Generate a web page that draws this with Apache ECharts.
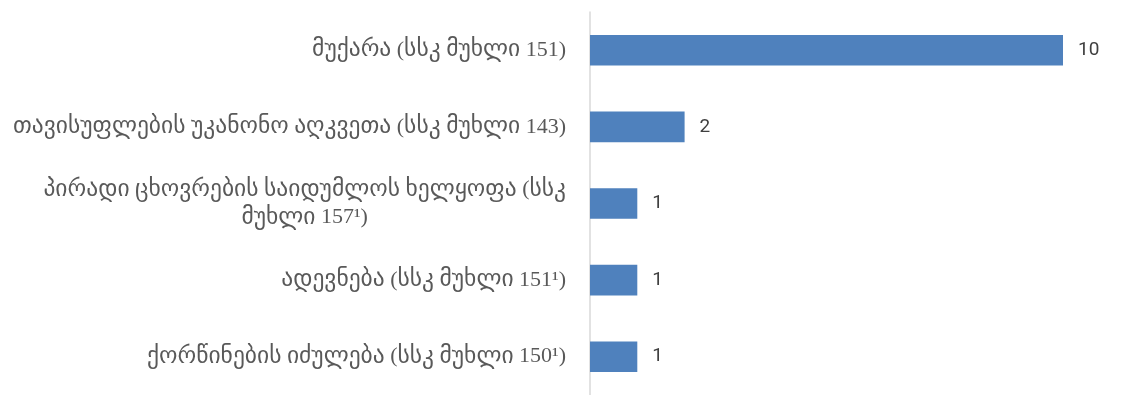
<!DOCTYPE html>
<html>
<head>
<meta charset="utf-8">
<script src="https://cdn.jsdelivr.net/npm/echarts@6/dist/echarts.min.js"></script>
<style>
  html, body { margin: 0; padding: 0; background: #ffffff; }
  #chart { width: 1142px; height: 395px; }
</style>
</head>
<body>
<div id="chart"></div>
<script>
// Offence categories (bottom to top on the category axis)
const categories = [
  'ქორწინების იძულება (სსკ მუხლი 150¹)',
  'ადევნება (სსკ მუხლი 151¹)',
  'პირადი ცხოვრების საიდუმლოს ხელყოფა (სსკ\nმუხლი 157¹)',
  'თავისუფლების უკანონო აღკვეთა (სსკ მუხლი 143)',
  'მუქარა (სსკ მუხლი 151)'
];
// Number of cases per category
const caseCounts = [1, 1, 1, 2, 10];

// Georgian runs and digit/punctuation runs get separate rich styles
const GEO_RUN = /([\u10A0-\u10FF]+)/;
function richLabel(text) {
  return text.split('\n').map(function (line) {
    return line.split(GEO_RUN).filter(function (s) { return s.length; }).map(function (s) {
      return (GEO_RUN.test(s) ? '{g|' : '{d|') + s + '}';
    }).join('');
  }).join('\n');
}

const chart = echarts.init(document.getElementById('chart'), null, { renderer: 'canvas' });

chart.setOption({
  animation: false,
  backgroundColor: '#ffffff',
  grid: { left: 590, right: 79, top: 12, bottom: -4, containLabel: false },
  xAxis: {
    type: 'value',
    min: 0,
    max: 10,
    show: false
  },
  yAxis: {
    type: 'category',
    data: categories,
    axisLine: { show: true, lineStyle: { color: '#d9d9d9', width: 1.5 } },
    axisTick: { show: false },
    splitLine: { show: false },
    axisLabel: {
      margin: 24,
      align: 'right',
      formatter: richLabel,
      rich: {
        g: {
          align: 'center',
          fontFamily: '"DejaVu Sans", sans-serif',
          fontSize: 23.5,
          lineHeight: 28,
          color: '#595959'
        },
        d: {
          align: 'center',
          fontFamily: '"Liberation Serif", serif',
          fontSize: 22,
          lineHeight: 28,
          color: '#595959'
        }
      }
    }
  },
  series: [{
    type: 'bar',
    data: caseCounts,
    barWidth: '40%',
    itemStyle: { color: '#4F81BD' },
    label: {
      show: true,
      position: 'right',
      distance: 15,
      fontFamily: 'Roboto, sans-serif',
      fontSize: 19,
      color: '#404040'
    }
  }]
});
</script>
</body>
</html>
